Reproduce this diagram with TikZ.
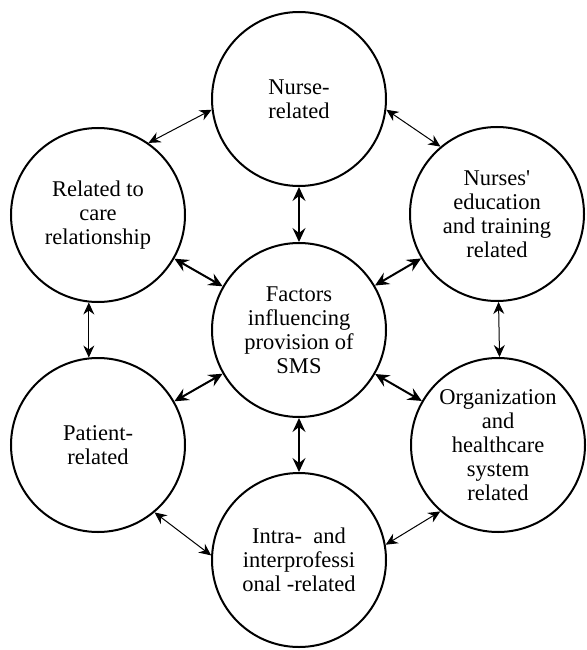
\documentclass[tikz,border=0pt]{standalone}
\usepackage{fontspec}
\setmainfont{Liberation Serif}
\usetikzlibrary{arrows.meta}
\begin{document}
\begin{tikzpicture}[x=1pt,y=-1pt,
  factor/.style={circle,draw,line width=2pt,minimum size=174pt,inner sep=0pt,
    align=center,font=\fontsize{22.5}{24}\selectfont},
  mainlink/.style={line width=2pt,{Stealth[length=14pt,width=13pt,inset=5pt]}-{Stealth[length=14pt,width=13pt,inset=5pt]}},
  ringlink/.style={line width=1pt,{Stealth[length=12pt,width=11pt,inset=4pt]}-{Stealth[length=12pt,width=11pt,inset=4pt]}}]
  \useasboundingbox (0,0) rectangle (586,650);
  % central factor and the six groups around it
  \node[factor] (c)  at (299,330) {Factors\\influencing\\provision of\\SMS};
  \node[factor] (t)  at (299,99)  {Nurse-\\related};
  \node[factor] (lt) at (98,215)  {Related to\\care\\relationship};
  \node[factor] (rt) at (497,214) {Nurses\textquotesingle\\education\\and training\\related};
  \node[factor] (lb) at (98,445)  {Patient-\\related};
  \node[factor] (rb) at (498,445) {Organization\\and\\healthcare\\system\\related};
  \node[factor] (b)  at (299,560) {Intra-\ \ and\\interprofessi\\onal -related};
  % links from the centre
  \draw[mainlink] (c) -- (t);
  \draw[mainlink] (c) -- (b);
  \draw[mainlink] (c) -- (lt);
  \draw[mainlink] (c) -- (rt);
  \draw[mainlink] (c) -- (lb);
  \draw[mainlink] (c) -- (rb);
  % links around the ring
  \draw[ringlink] (t.187) -- (lt.55);
  \draw[ringlink] (t.353) -- (rt.130);
  \draw[ringlink] (lt.264) -- (lb.96);
  \draw[ringlink] (rt.271) -- (rb.89);
  \draw[ringlink] (lb.310) -- (b.177);
  \draw[ringlink] (rb.229) -- (b.10);
\end{tikzpicture}
\end{document}
